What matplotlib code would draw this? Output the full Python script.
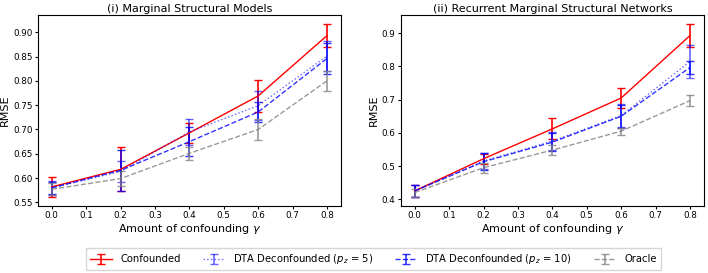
import matplotlib
matplotlib.use("Agg")
import matplotlib.pyplot as plt
import numpy as np

gamma = [0.0, 0.2, 0.4, 0.6, 0.8]

# (i) Marginal Structural Models
msm_conf = [0.582, 0.618, 0.693, 0.769, 0.893]
msm_conf_err = [0.020, 0.045, 0.021, 0.032, 0.023]
msm_p5 = [0.580, 0.614, 0.695, 0.749, 0.851]
msm_p5_err = [0.015, 0.022, 0.027, 0.030, 0.030]
msm_p10 = [0.580, 0.616, 0.675, 0.736, 0.846]
msm_p10_err = [0.013, 0.042, 0.030, 0.020, 0.032]
msm_oracle = [0.577, 0.599, 0.651, 0.700, 0.800]
msm_oracle_err = [0.012, 0.015, 0.014, 0.022, 0.020]

# (ii) Recurrent Marginal Structural Networks
rmsn_conf = [0.425, 0.522, 0.612, 0.705, 0.893]
rmsn_conf_err = [0.018, 0.015, 0.032, 0.030, 0.034]
rmsn_p5 = [0.425, 0.515, 0.575, 0.652, 0.815]
rmsn_p5_err = [0.018, 0.025, 0.028, 0.035, 0.050]
rmsn_p10 = [0.425, 0.513, 0.572, 0.650, 0.797]
rmsn_p10_err = [0.018, 0.025, 0.028, 0.035, 0.020]
rmsn_oracle = [0.420, 0.495, 0.548, 0.605, 0.697]
rmsn_oracle_err = [0.012, 0.015, 0.015, 0.010, 0.017]

labels = ["Confounded", r"DTA Deconfounded ($p_z$ = 5)",
          r"DTA Deconfounded ($p_z$ = 10)", "Oracle"]
styles = [("red", "-", 1.0), ("blue", ":", 0.6), ("blue", "--", 0.8), ("gray", "--", 0.8)]

panels = [
    ("(i) Marginal Structural Models",
     [(msm_conf, msm_conf_err), (msm_p5, msm_p5_err), (msm_p10, msm_p10_err), (msm_oracle, msm_oracle_err)],
     [0.55, 0.60, 0.65, 0.70, 0.75, 0.80, 0.85, 0.90], "{:.2f}", (0.543, 0.936)),
    ("(ii) Recurrent Marginal Structural Networks",
     [(rmsn_conf, rmsn_conf_err), (rmsn_p5, rmsn_p5_err), (rmsn_p10, rmsn_p10_err), (rmsn_oracle, rmsn_oracle_err)],
     [0.4, 0.5, 0.6, 0.7, 0.8, 0.9], "{:.1f}", (0.380, 0.956)),
]

fig = plt.figure(figsize=(7.08, 2.73), dpi=100)
axes = [fig.add_axes([0.0537, 0.246, 0.4275, 0.700]),
        fig.add_axes([0.5664, 0.246, 0.4275, 0.700])]

xt = np.arange(0, 0.81, 0.1)
handles = []
for ax, (title, series, yticks, fmt, ylim) in zip(axes, panels):
    for (vals, errs), (color, ls, alpha), lab in zip(series, styles, labels):
        h = ax.errorbar(gamma, vals, yerr=errs, color=color, linestyle=ls, linewidth=1.0,
                        alpha=alpha, capsize=3, elinewidth=1.2, label=lab)
        if ax is axes[0]:
            handles.append(h)
    ax.set_title(title, fontsize=8, pad=2)
    ax.set_xlabel(r"Amount of confounding $\gamma$", fontsize=8, labelpad=1)
    ax.set_ylabel("RMSE", fontsize=8, labelpad=2)
    ax.set_xticks(xt)
    ax.set_xticklabels([f"{t:.1f}" for t in xt])
    ax.set_yticks(yticks)
    ax.set_yticklabels([fmt.format(t) for t in yticks])
    ax.tick_params(labelsize=6.3, length=2.5, pad=1.5)
    ax.set_xlim(-0.04, 0.84)
    ax.set_ylim(*ylim)

fig.legend(handles, labels, loc="center", bbox_to_anchor=(0.5275, 0.051), ncol=4,
           fontsize=7.2, frameon=True, handlelength=2.2, columnspacing=2.2,
           borderpad=0.4, fancybox=False)

fig.savefig("out.png", dpi=100)
